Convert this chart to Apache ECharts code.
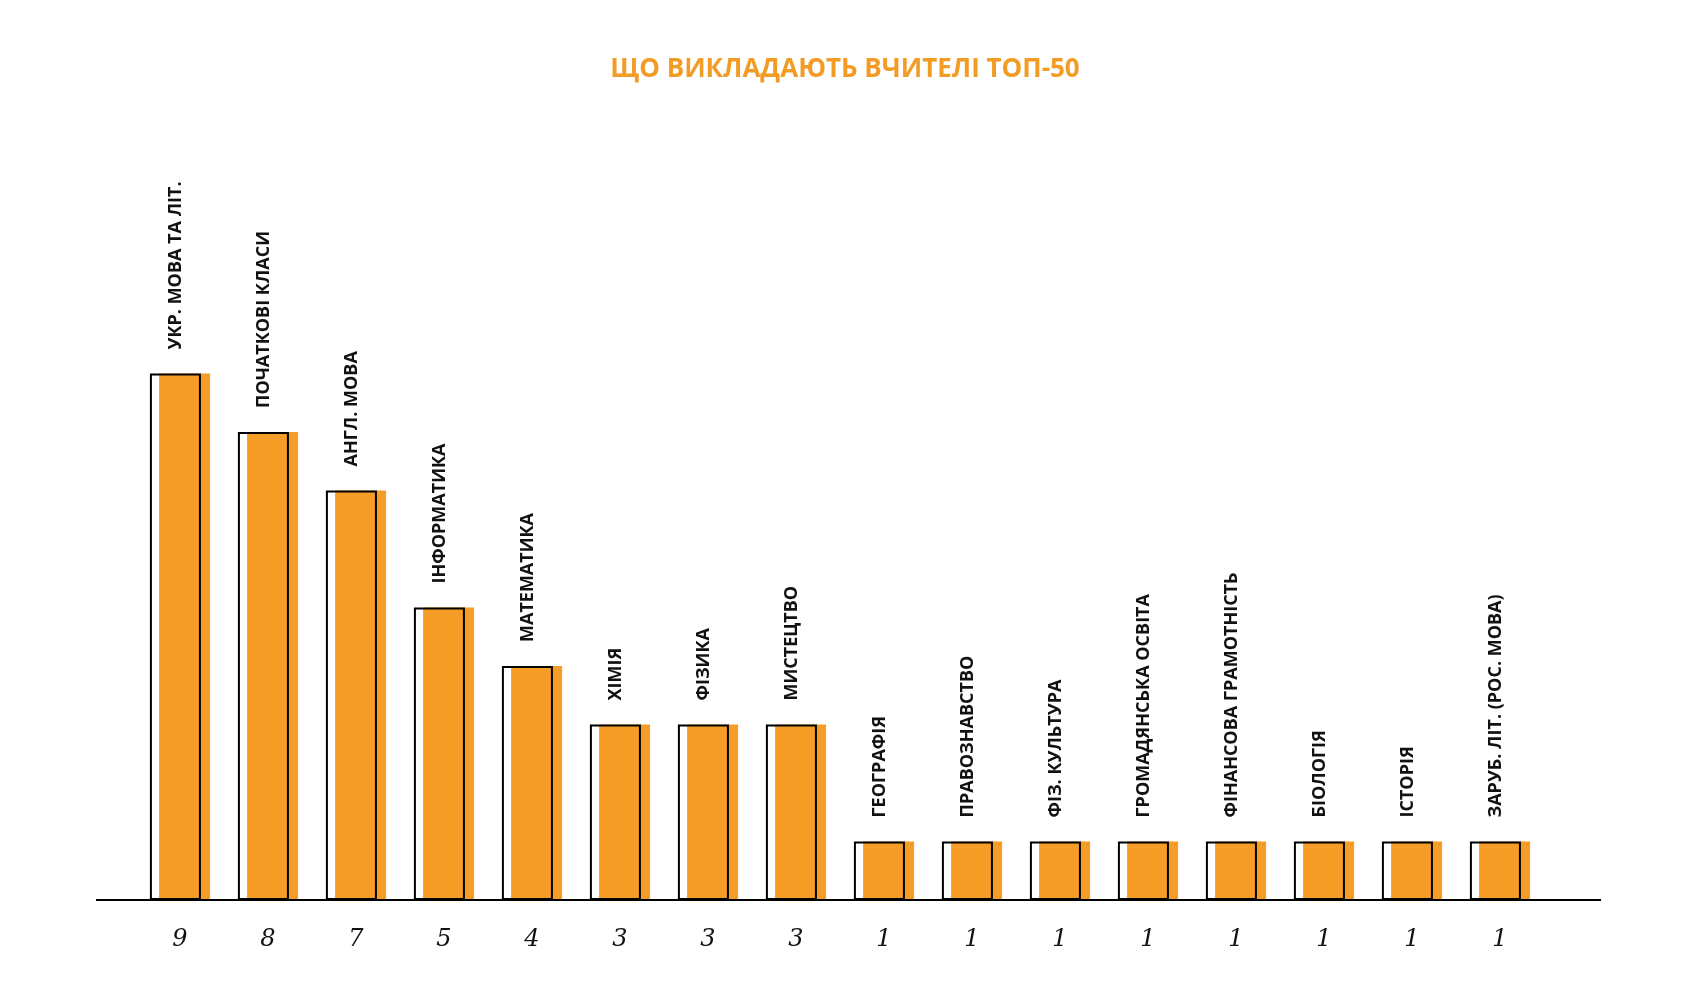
<!DOCTYPE html><html><head><meta charset="utf-8"><script src="https://cdn.jsdelivr.net/npm/echarts@6/dist/echarts.min.js"></script></head><body style="margin:0;background:#fff"><div id="c" style="width:1690px;height:1004px"></div><script>
const categories=['УКР. МОВА ТА ЛІТ.','ПОЧАТКОВІ КЛАСИ','АНГЛ. МОВА','ІНФОРМАТИКА','МАТЕМАТИКА','ХІМІЯ','ФІЗИКА','МИСТЕЦТВО','ГЕОГРАФІЯ','ПРАВОЗНАВСТВО','ФІЗ. КУЛЬТУРА','ГРОМАДЯНСЬКА ОСВІТА','ФІНАНСОВА ГРАМОТНІСТЬ','БІОЛОГІЯ','ІСТОРІЯ','ЗАРУБ. ЛІТ. (РОС. МОВА)'];
const values=[9,8,7,5,4,3,3,3,1,1,1,1,1,1,1,1];
const ch=echarts.init(document.getElementById('c'));
ch.setOption({
 animation:false,
 title:{text:'ЩО ВИКЛАДАЮТЬ ВЧИТЕЛІ ТОП-50',left:'center',top:52,textStyle:{color:'#f39c25',fontFamily:'Open Sans',fontWeight:'bold',fontSize:26}},
 grid:{left:136,width:1408,top:315,bottom:104},
 xAxis:{type:'category',data:categories,axisLine:{show:false},axisTick:{show:false},
  axisLabel:{margin:28,formatter:(v,i)=>String(values[i]),fontFamily:'DejaVu Serif',fontStyle:'italic',fontSize:24,color:'#111'}},
 yAxis:{type:'value',min:0,max:10,show:false},
 series:[
  {type:'bar',data:values,barWidth:51,barGap:'-82%',z:3,itemStyle:{color:'rgba(0,0,0,0)',borderColor:'#000',borderWidth:2},
   label:{show:true,position:'top',rotate:90,align:'left',verticalAlign:'middle',distance:24,formatter:p=>categories[p.dataIndex],fontFamily:'Open Sans',fontWeight:'bold',fontSize:18,color:'#111',offset:[0,0]}},
  {type:'bar',data:values,barWidth:51,z:2,itemStyle:{color:'#f59d26'}}
 ]
});
const y0=ch.convertToPixel({yAxisIndex:0},0);
ch.setOption({graphic:[{type:'line',shape:{x1:96,y1:y0,x2:1601,y2:y0},style:{stroke:'#000',lineWidth:2},z:10}]});
</script></body></html>
